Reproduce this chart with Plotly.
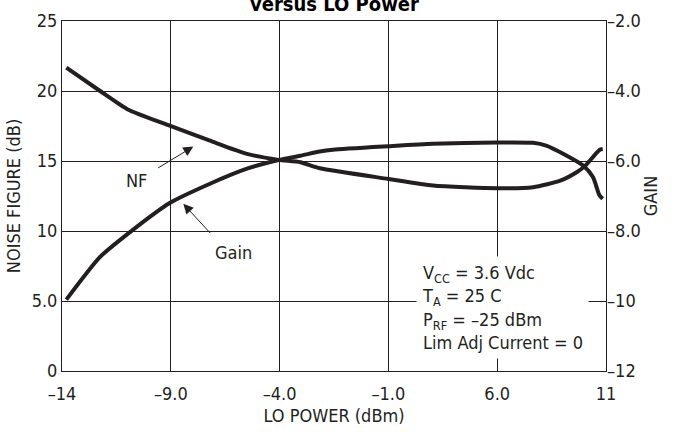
import plotly.graph_objects as go

# x positions are measured in grid divisions (0..5) of the LO POWER axis
x_ticks = [0, 1, 2, 3, 4, 5]
x_ticktext = ["–14", "–9.0", "–4.0", "–1.0", "6.0", "11"]

y_ticks = [0, 5, 10, 15, 20, 25]
y_ticktext = ["0", "5.0", "10", "15", "20", "25"]
y2_ticks = [-12, -10, -8, -6, -4, -2]
y2_ticktext = ["–12", "–10", "–8.0", "–6.0", "–4.0", "–2.0"]

nf_x = [0.04, 0.35, 0.6, 0.99, 1.36, 1.70, 1.99, 2.19, 2.37, 3.0, 3.41, 4.0, 4.33, 4.58, 4.73, 4.81, 4.94, 4.97]
nf_y = [21.67, 20.0, 18.7, 17.52, 16.45, 15.51, 15.08, 14.91, 14.48, 13.72, 13.25, 13.06, 13.13, 13.6, 14.2, 14.67, 15.79, 15.85]

gain_x = [0.04, 0.35, 0.625, 0.99, 1.36, 1.70, 1.99, 2.19, 2.37, 2.49, 3.0, 3.41, 4.0, 4.33, 4.45, 4.61, 4.79, 4.88, 4.94, 4.97]
gain_y = [-9.96, -8.74, -8.03, -7.20, -6.65, -6.22, -5.97, -5.85, -5.73, -5.68, -5.58, -5.51, -5.47, -5.48, -5.56, -5.80, -6.13, -6.46, -6.98, -7.08]

FONT = "Liberation Sans Narrow, DejaVu Sans Condensed, Arial Narrow, sans-serif"
INK = "#231f20"

fig = go.Figure()
fig.add_trace(go.Scatter(x=nf_x, y=nf_y, mode="lines", line=dict(color=INK, width=4, shape="spline", smoothing=0.6),
                         name="NF", yaxis="y", hoverinfo="skip"))
fig.add_trace(go.Scatter(x=gain_x, y=gain_y, mode="lines", line=dict(color=INK, width=4, shape="spline", smoothing=0.6),
                         name="Gain", yaxis="y2", hoverinfo="skip"))

annotations = [
    dict(text="<b>versus LO Power</b>", xref="paper", yref="paper", x=0.5, y=1.009, xanchor="center", yanchor="bottom",
         showarrow=False, font=dict(size=20, family=FONT, color="#000")),
    # NF arrow + label
    dict(text="", x=1.207, y=16.03, ax=0.870, ay=14.44, xref="x", yref="y", axref="x", ayref="y",
         showarrow=True, arrowhead=2, arrowsize=2, arrowwidth=1, arrowcolor=INK),
    dict(text="NF", x=0.689, y=13.6, xref="x", yref="y", showarrow=False, font=dict(size=18, family=FONT, color=INK)),
    # Gain arrow + label
    dict(text="", x=1.115, y=11.94, ax=1.376, ay=9.74, xref="x", yref="y", axref="x", ayref="y",
         showarrow=True, arrowhead=2, arrowsize=2, arrowwidth=1, arrowcolor=INK),
    dict(text="Gain", x=1.58, y=8.5, xref="x", yref="y", showarrow=False, font=dict(size=18, family=FONT, color=INK)),
    # conditions box
    dict(text="V<sub>CC</sub> = 3.6 Vdc<br>T<sub>A</sub> = 25 C<br>P<sub>RF</sub> = –25 dBm<br>Lim Adj Current = 0",
         x=3.25, y=4.55, xref="x", yref="y", xanchor="left", yanchor="middle", align="left", showarrow=False,
         bgcolor="white", borderpad=5, font=dict(size=18, family=FONT, color=INK)),
]

fig.update_layout(
    width=680, height=434,
    margin=dict(l=62, r=74, t=21, b=63, autoexpand=False),
    paper_bgcolor="white", plot_bgcolor="white",
    showlegend=False,
    font=dict(family=FONT, size=18, color=INK),
    xaxis=dict(range=[0, 5], tickvals=x_ticks, ticktext=x_ticktext, showgrid=True, gridcolor=INK, gridwidth=1,
               showline=True, linecolor=INK, linewidth=1, mirror=True, ticks="", zeroline=False, automargin=False,
               ticklabelstandoff=6,
               title=dict(text="LO POWER (dBm)", font=dict(size=18, family=FONT), standoff=6)),
    yaxis=dict(range=[0, 25], tickvals=y_ticks, ticktext=y_ticktext, showgrid=True, gridcolor=INK, gridwidth=1,
               showline=True, linecolor=INK, linewidth=1, mirror=True, ticks="", zeroline=False, automargin=False,
               title=dict(text="NOISE FIGURE (dB)", font=dict(size=18, family=FONT), standoff=6)),
    yaxis2=dict(range=[-12, -2], tickvals=y2_ticks, ticktext=y2_ticktext, overlaying="y", side="right",
                showgrid=False, zeroline=False, showline=False, ticks="", automargin=False,
                title=dict(text="GAIN", font=dict(size=18, family=FONT), standoff=4)),
    annotations=annotations,
)

fig.write_html("out.html", config={"displayModeBar": False, "staticPlot": True},
               post_script="document.body.style.margin='0';document.body.style.padding='0';")
